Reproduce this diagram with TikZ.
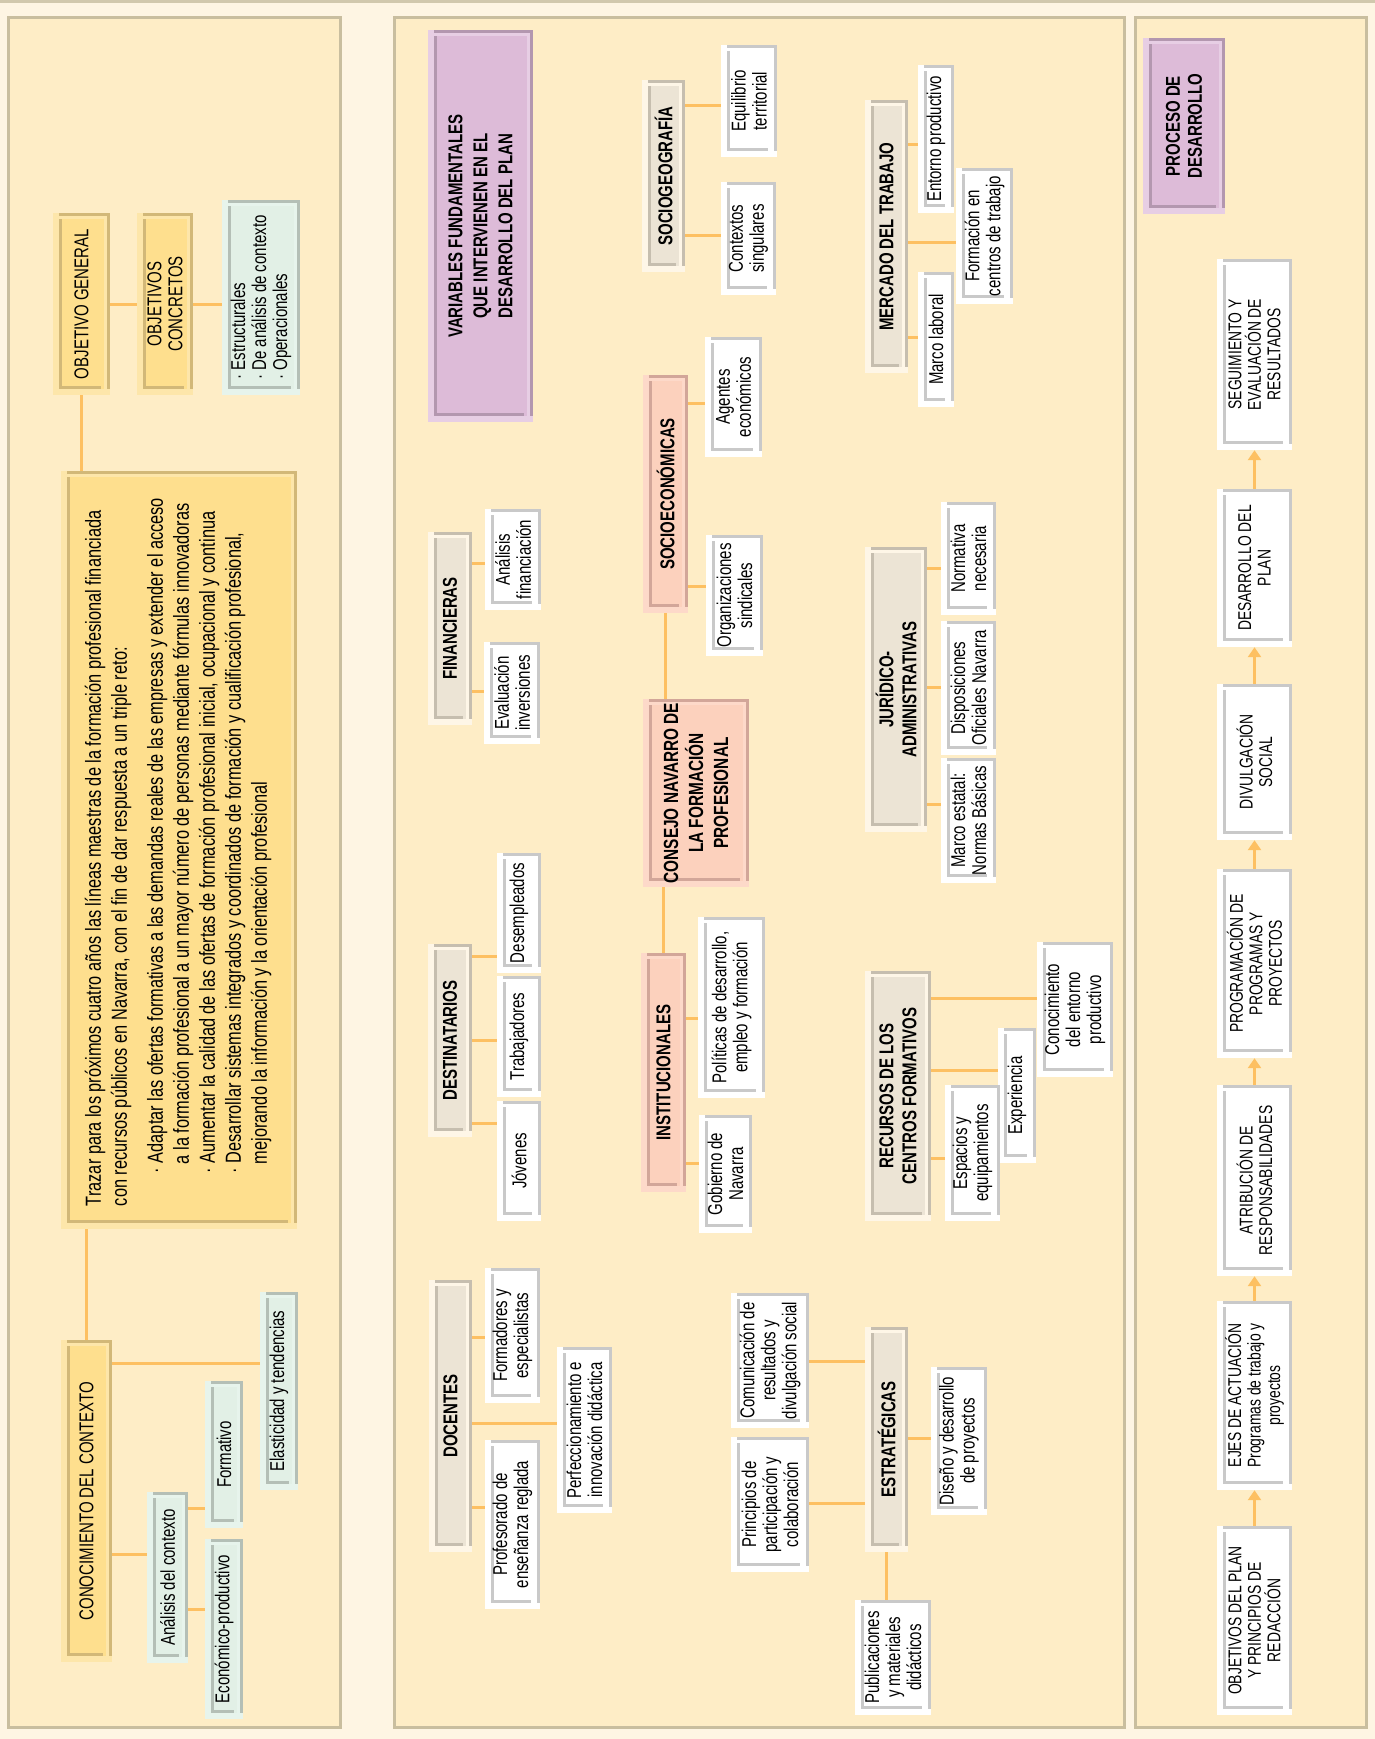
\documentclass[tikz,border=0pt]{standalone}
\usepackage{fontspec}
\setmainfont{Liberation Sans}[FakeStretch=0.75]
\usetikzlibrary{arrows.meta}

% page and panels
\definecolor{pagebg}{HTML}{FEF5E3}
\definecolor{panelbg}{HTML}{FEEDC6}
\definecolor{panelline}{HTML}{C9BE9F}
\definecolor{linkc}{HTML}{FDC062}
% box palettes: out = rim, in = face, dk = frame bars
\definecolor{yelout}{HTML}{FDE6AA}
\definecolor{yelin}{HTML}{FEDF8E}
\definecolor{yeldk}{HTML}{D2B878}
\definecolor{grnout}{HTML}{E7F4EC}
\definecolor{grnin}{HTML}{E2F0E6}
\definecolor{grndk}{HTML}{B4BFB6}
\definecolor{whtout}{HTML}{FFFFFF}
\definecolor{whtin}{HTML}{FFFFFF}
\definecolor{whtdk}{HTML}{C9C9C9}
\definecolor{beiout}{HTML}{FEF6E7}
\definecolor{beiin}{HTML}{ECE4D5}
\definecolor{beidk}{HTML}{C6BEAF}
\definecolor{salout}{HTML}{FDD9C9}
\definecolor{salin}{HTML}{FCD1BD}
\definecolor{saldk}{HTML}{D2A699}
\definecolor{purout}{HTML}{E7CEE4}
\definecolor{purin}{HTML}{DDBBD8}
\definecolor{purdk}{HTML}{B397AF}

% framed box with its (rotated) label node
% #1 extra node options, #2 name, #3 palette, #4 x1, #5 y1, #6 x2, #7 y2, #8 text
\newcommand\cbox[8][]{%
  \fill[#3out] (#4,#5) rectangle (#6,#7);
  \fill[#3in] (#4+6,#5+6) rectangle (#6-6,#7-6);
  \fill[#3dk] (#4+6,#5) rectangle (#6,#5+3);
  \fill[#3dk] (#6-3,#5) rectangle (#6,#7-6);
  \fill[#3dk] (#4+6,#5+6) rectangle (#4+9,#7-6);
  \fill[#3dk] (#4+6,#7-9) rectangle (#6-9,#7-6);
  \node[lbl,#1,minimum width={(#7-#5)*1pt},minimum height={(#6-#4)*1pt}]
    (#2) at ({(#4+#6)/2},{(#5+#7)/2}) {#8};
}
% horizontal branch between two side-by-side boxes at height #3
\newcommand\hlink[3]{\draw[link] (#1.south |- 0,#3) -- (#2.north |- 0,#3);}

\begin{document}
\begin{tikzpicture}[x=1pt,y=-1pt,
  lbl/.style={rotate=90,align=center,inner sep=0pt,
    font=\fontsize{20}{21}\selectfont},
  cat/.style={font=\bfseries\fontsize{20}{23}\selectfont},
  flowtxt/.style={font=\fontsize{18.5}{19.5}\selectfont},
  link/.style={draw=linkc,line width=3pt},
  flow/.style={link,-{Triangle[width=13pt,length=10pt]}},
  panel/.style={fill=panelbg,draw=panelline,line width=3pt}]

\useasboundingbox (0,0) rectangle (1375,1739);
\fill[pagebg] (0,0) rectangle (1375,1739);
\fill[panelline!85] (0,0) rectangle (1375,3);

\draw[panel] (8,18) rectangle (340,1727);
\draw[panel] (394,18) rectangle (1124,1727);
\draw[panel] (1135,18) rectangle (1366,1727);

% ---------- objectives and context ----------
\cbox{og}{yel}{53}{213}{110}{395}{OBJETIVO GENERAL}
\cbox{oc}{yel}{137}{213}{193}{395}{OBJETIVOS\\CONCRETOS}
\cbox[align=left]{ocl}{grn}{222}{200}{300}{395}{· Estructurales\\· De análisis de contexto\\· Operacionales}

\cbox{txt}{yel}{61}{471}{297}{1229}{}
\node[lbl,align=left,font=\fontsize{21.8}{26}\selectfont] (txtlabel) at (178,852) {%
Trazar para los próximos cuatro años las líneas maestras de la formación profesional financiada\\
con recursos públicos en Navarra, con el fin de dar respuesta a un triple reto:\\[10pt]
\hspace*{33pt}· Adaptar las ofertas formativas a las demandas reales de las empresas y extender el acceso\\
\hspace*{42pt}a la formación profesional a un mayor número de personas mediante fórmulas innovadoras\\
\hspace*{33pt}· Aumentar la calidad de las ofertas de formación profesional inicial, ocupacional y continua\\
\hspace*{33pt}· Desarrollar sistemas integrados y coordinados de formación y cualificación profesional,\\
\hspace*{42pt}mejorando la información y la orientación profesional};

\cbox{cc}{yel}{61}{1340}{112}{1662}{CONOCIMIENTO DEL CONTEXTO}
\cbox{ela}{grn}{260}{1292}{298}{1490}{Elasticidad y tendencias}
\cbox{for}{grn}{205}{1381}{243}{1528}{Formativo}
\cbox{ana}{grn}{147}{1492}{188}{1663}{Análisis del contexto}
\cbox{eco}{grn}{205}{1539}{243}{1719}{Económico-productivo}

\draw[link] (og.west) -- (og.west |- txt.east);
\draw[link] (og.south) -- (oc.north);
\draw[link] (oc.south) -- (oc.south -| ocl.north);
\draw[link] (cc.east) -- (cc.east |- txt.west);
\hlink{cc}{ela}{1363}
\hlink{cc}{ana}{1554}
\hlink{ana}{for}{1508}
\hlink{ana}{eco}{1609}

% ---------- fundamental variables ----------
\cbox[cat,font=\bfseries\fontsize{20}{25}\selectfont]{var}{pur}{428}{30}{533}{422}{VARIABLES FUNDAMENTALES\\QUE INTERVIENEN EN EL\\DESARROLLO DEL PLAN}

\cbox[cat]{soc}{bei}{642}{80}{685}{272}{SOCIOGEOGRAFÍA}
\cbox{equ}{wht}{721}{45}{777}{157}{Equilibrio\\territorial}
\cbox{ctx}{wht}{721}{182}{776}{295}{Contextos\\singulares}

\cbox[cat]{sec}{sal}{643}{375}{688}{613}{SOCIOECONÓMICAS}
\cbox{age}{wht}{705}{337}{762}{457}{Agentes\\económicos}
\cbox{org}{wht}{706}{535}{763}{656}{Organizaciones\\sindicales}

\cbox[cat,font=\bfseries\fontsize{20.5}{25}\selectfont]{con}{sal}{643}{699}{749}{887}{CONSEJO NAVARRO DE\\LA FORMACIÓN\\PROFESIONAL}

\cbox[cat]{ins}{sal}{641}{953}{686}{1192}{INSTITUCIONALES}
\cbox{pol}{wht}{698}{917}{765}{1098}{Políticas de desarrollo,\\empleo y formación}
\cbox{gob}{wht}{699}{1115}{752}{1233}{Gobierno de\\Navarra}

\cbox[cat]{fin}{bei}{428}{532}{472}{725}{FINANCIERAS}
\cbox{anf}{wht}{485}{509}{541}{610}{Análisis\\financiación}
\cbox{evi}{wht}{484}{642}{540}{744}{Evaluación\\inversiones}

\cbox[cat]{des}{bei}{428}{944}{472}{1137}{DESTINATARIOS}
\cbox{dem}{wht}{497}{853}{541}{973}{Desempleados}
\cbox{tra}{wht}{497}{976}{541}{1097}{Trabajadores}
\cbox{jov}{wht}{497}{1101}{541}{1221}{Jóvenes}

\cbox[cat]{doc}{bei}{429}{1280}{472}{1552}{DOCENTES}
\cbox{fes}{wht}{485}{1268}{540}{1403}{Formadores y\\especialistas}
\cbox{per}{wht}{557}{1347}{612}{1513}{Perfeccionamiento e\\innovación didáctica}
\cbox{pro}{wht}{485}{1440}{540}{1609}{Profesorado de\\enseñanza reglada}

\cbox[cat]{est}{bei}{865}{1327}{908}{1552}{ESTRATÉGICAS}
\cbox{com}{wht}{731}{1293}{809}{1428}{Comunicación de\\resultados y\\divulgación social}
\cbox{pri}{wht}{731}{1437}{809}{1572}{Principios de\\participación y\\colaboración}
\cbox{dis}{wht}{931}{1367}{987}{1515}{Diseño y desarrollo\\de proyectos}
\cbox{pub}{wht}{855}{1600}{931}{1715}{Publicaciones\\y materiales\\didácticos}

\cbox[cat]{mer}{bei}{865}{100}{908}{373}{MERCADO DEL TRABAJO}
\cbox{ent}{wht}{918}{65}{954}{213}{Entorno productivo}
\cbox{fct}{wht}{956}{168}{1013}{304}{Formación en\\centros de trabajo}
\cbox{mla}{wht}{918}{272}{954}{407}{Marco laboral}

\cbox[cat]{jur}{bei}{865}{547}{927}{832}{JURÍDICO-\\ADMINISTRATIVAS}
\cbox{nor}{wht}{941}{502}{996}{615}{Normativa\\necesaria}
\cbox{dof}{wht}{941}{621}{996}{755}{Disposiciones\\Oficiales Navarra}
\cbox{mes}{wht}{941}{758}{996}{883}{Marco estatal:\\Normas Básicas}

\cbox[cat]{rec}{bei}{865}{971}{931}{1221}{RECURSOS DE LOS\\CENTROS FORMATIVOS}
\cbox{cep}{wht}{1037}{942}{1113}{1077}{Conocimiento\\del entorno\\productivo}
\cbox{exp}{wht}{998}{1028}{1036}{1163}{Experiencia}
\cbox{esp}{wht}{945}{1085}{1000}{1221}{Espacios y\\equipamientos}

\hlink{soc}{equ}{106}
\hlink{soc}{ctx}{235}
\hlink{sec}{age}{403}
\hlink{sec}{org}{586}
\draw[link] (sec.west) -- (sec.west |- con.east);
\draw[link] (ins.east) -- (ins.east |- con.west);
\hlink{ins}{pol}{1018}
\hlink{ins}{gob}{1163}
\hlink{fin}{anf}{563}
\hlink{fin}{evi}{691}
\hlink{des}{dem}{956}
\hlink{des}{tra}{1040}
\hlink{des}{jov}{1123}
\hlink{doc}{fes}{1337}
\hlink{doc}{per}{1423}
\hlink{doc}{pro}{1507}
\hlink{com}{est}{1361}
\hlink{pri}{est}{1503}
\hlink{est}{dis}{1438}
\draw[link] (est.west) -- (est.west |- pub.east);
\hlink{mer}{ent}{145}
\hlink{mer}{fct}{242}
\hlink{mer}{mla}{337}
\hlink{jur}{nor}{568}
\hlink{jur}{dof}{687}
\hlink{jur}{mes}{804}
\hlink{rec}{cep}{998}
\hlink{rec}{exp}{1070}
\hlink{rec}{esp}{1158}

% ---------- development process ----------
\cbox[cat,font=\bfseries\fontsize{20}{22}\selectfont]{pdd}{pur}{1143}{38}{1225}{214}{PROCESO DE\\DESARROLLO}
\cbox[flowtxt]{seg}{wht}{1217}{259}{1292}{450}{SEGUIMIENTO Y\\EVALUACIÓN DE\\RESULTADOS}
\cbox[flowtxt]{dpl}{wht}{1217}{489}{1292}{647}{DESARROLLO DEL\\PLAN}
\cbox[flowtxt]{dvs}{wht}{1217}{684}{1292}{840}{DIVULGACIÓN\\SOCIAL}
\cbox[flowtxt]{prg}{wht}{1217}{869}{1292}{1058}{PROGRAMACIÓN DE\\PROGRAMAS Y\\PROYECTOS}
\cbox[flowtxt]{atr}{wht}{1217}{1085}{1292}{1276}{ATRIBUCIÓN DE\\RESPONSABILIDADES}
\cbox[flowtxt]{eje}{wht}{1217}{1301}{1292}{1490}{EJES DE ACTUACIÓN\\Programas de trabajo y\\proyectos}
\cbox[flowtxt]{obj}{wht}{1217}{1526}{1292}{1715}{OBJETIVOS DEL PLAN\\Y PRINCIPIOS DE\\REDACCIÓN}

\draw[flow] (obj.east) -- (eje.west);
\draw[flow] (eje.east) -- (atr.west);
\draw[flow] (atr.east) -- (prg.west);
\draw[flow] (prg.east) -- (dvs.west);
\draw[flow] (dvs.east) -- (dpl.west);
\draw[flow] (dpl.east) -- (seg.west);

\end{tikzpicture}
\end{document}
